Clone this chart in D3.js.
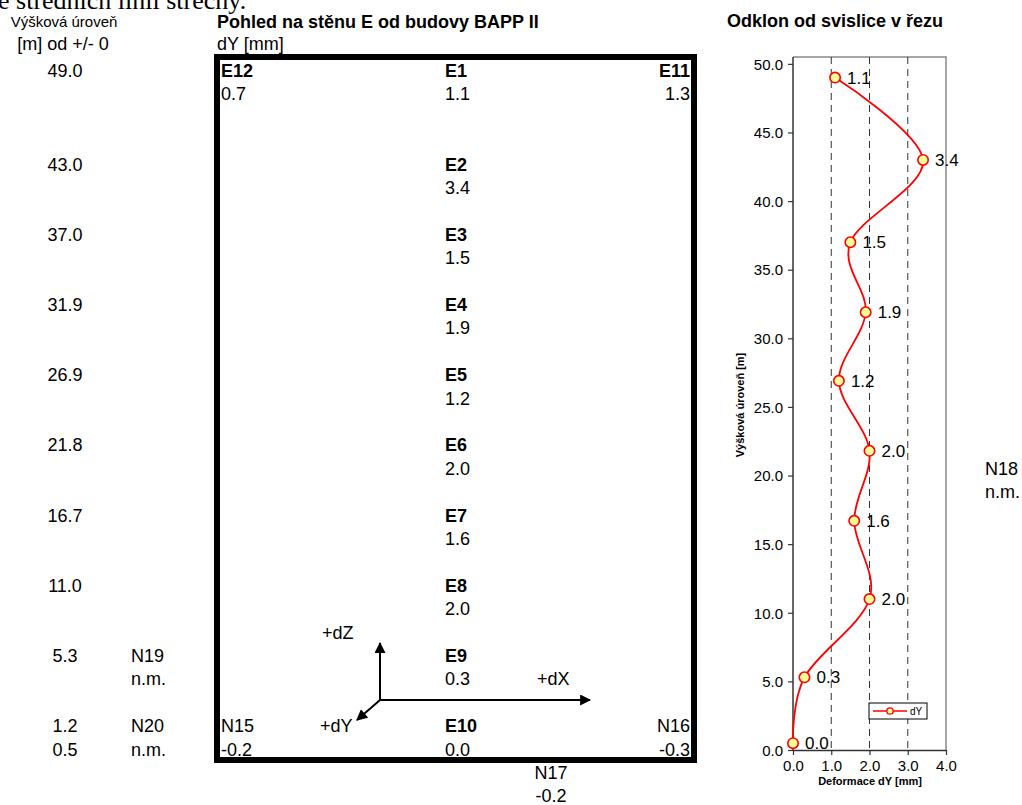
<!DOCTYPE html>
<html>
<head>
<meta charset="utf-8">
<title>Pohled na stěnu E</title>
<script src="https://cdn.jsdelivr.net/npm/d3@7"></script>
<style>
  body { margin: 0; background: #fff; }
  svg text { font-family: "Liberation Sans", Arial, sans-serif; fill: #000; }
  .b { font-weight: bold; }
</style>
</head>
<body>
<div id="chart"></div>
<script>
// --- data ---
var pointNames = ["E1", "E2", "E3", "E4", "E5", "E6", "E7", "E8", "E9", "E10"];
var pointRows  = [0, 4, 7, 10, 13, 16, 19, 22, 25, 28];      // sheet row of each name
var dYvalues   = [1.1, 3.4, 1.5, 1.9, 1.2, 2.0, 1.6, 2.0, 0.3, 0.0];
var heights    = [49.0, 43.0, 37.0, 31.9, 26.9, 21.8, 16.7, 11.0, 5.3, 0.5];

var levelLabels = ["49.0", "43.0", "37.0", "31.9", "26.9", "21.8", "16.7", "11.0", "5.3", "1.2", "0.5"];
var levelRows   = [0, 4, 7, 10, 13, 16, 19, 22, 25, 28, 29];

// corner / outside points: name, value
var cornerNames  = ["E12", "E11", "N15", "N16", "N17", "N18", "N19", "N20"];
var cornerValues = ["0.7", "1.3", "-0.2", "-0.3", "-0.2", "n.m.", "n.m.", "n.m."];

var xTicks = [0, 1, 2, 3, 4];
var yTicks = [0, 5, 10, 15, 20, 25, 30, 35, 40, 45, 50];
var gridX  = [1, 2, 3];

var svg = d3.select("#chart").append("svg")
  .attr("width", 1022)
  .attr("height", 805);

// sheet rows -> y
var row = d3.scaleLinear().domain([0, 31]).range([77, 802.4]);

// heading line of the page above, cut by the top edge
svg.append("text")
  .attr("x", -2).attr("y", 9)
  .style("font-family", "'Liberation Serif', 'Times New Roman', serif")
  .style("font-size", "26px")
  .text("e středních linií střechy.");

// left column
svg.append("text").attr("x", 64).attr("y", 27).attr("text-anchor", "middle")
  .style("font-size", "15px").text("Výšková úroveň");
svg.append("text").attr("x", 63).attr("y", 50).attr("text-anchor", "middle")
  .style("font-size", "18px").text("[m] od +/- 0");

svg.selectAll(".lvl")
  .data(levelLabels)
  .enter().append("text")
  .attr("class", "lvl")
  .attr("x", 65)
  .attr("y", function(d, i) { return row(levelRows[i]); })
  .attr("text-anchor", "middle")
  .style("font-size", "18px")
  .text(function(d) { return d; });

// wall view title
svg.append("text").attr("class", "b").attr("x", 217).attr("y", 28)
  .style("font-size", "18px").text("Pohled na stěnu E od budovy BAPP II");
svg.append("text").attr("x", 217).attr("y", 50)
  .style("font-size", "18px").text("dY [mm]");

// thick frame of the wall
svg.append("rect")
  .attr("x", 217).attr("y", 57)
  .attr("width", 477).attr("height", 703)
  .attr("fill", "none")
  .attr("stroke", "#000")
  .attr("stroke-width", 6);

// E points down the middle
var pts = svg.selectAll(".pt")
  .data(pointNames)
  .enter().append("g")
  .attr("class", "pt");
pts.append("text")
  .attr("class", "b")
  .attr("x", 445)
  .attr("y", function(d, i) { return row(pointRows[i]); })
  .style("font-size", "18px")
  .text(function(d) { return d; });
pts.append("text")
  .attr("x", 445)
  .attr("y", function(d, i) { return row(pointRows[i] + 1); })
  .style("font-size", "18px")
  .text(function(d, i) { return dYvalues[i].toFixed(1); });

// corner points: x, row, anchor, bold
var cornerPos = [
  [221, 0, "start", true], [690, 0, "end", true],
  [221, 28, "start", false], [690, 28, "end", false],
  [551, 30, "middle", false], [985, 17, "start", false],
  [131, 25, "start", false], [131, 28, "start", false]
];
cornerNames.forEach(function(n, i) {
  var p = cornerPos[i];
  svg.append("text").attr("class", p[3] ? "b" : null)
    .attr("x", p[0]).attr("y", row(p[1])).attr("text-anchor", p[2])
    .style("font-size", "18px").text(n);
  svg.append("text")
    .attr("x", p[0]).attr("y", row(p[1] + 1)).attr("text-anchor", p[2])
    .style("font-size", "18px").text(cornerValues[i]);
});

// axis cross with arrows
svg.append("defs").append("marker")
  .attr("id", "arr")
  .attr("viewBox", "0 0 10 10")
  .attr("refX", 9).attr("refY", 5)
  .attr("markerWidth", 6).attr("markerHeight", 5.5)
  .attr("markerUnits", "strokeWidth")
  .attr("orient", "auto")
  .append("path").attr("d", "M0,0L10,5L0,10z").attr("fill", "#000");

var ox = 380, oy = 700;
[[380, 643], [590, 700], [357, 720]].forEach(function(e) {
  svg.append("line")
    .attr("x1", ox).attr("y1", oy).attr("x2", e[0]).attr("y2", e[1])
    .attr("stroke", "#000").attr("stroke-width", 2)
    .attr("marker-end", "url(#arr)");
});
svg.append("text").attr("x", 322).attr("y", row(24)).style("font-size", "18px").text("+dZ");
svg.append("text").attr("x", 537).attr("y", row(26)).style("font-size", "18px").text("+dX");
svg.append("text").attr("x", 320).attr("y", row(28)).style("font-size", "18px").text("+dY");

// ---------- deviation chart ----------
var x = d3.scaleLinear().domain([0, 4]).range([793, 946]);
var y = d3.scaleLinear().domain([0, 50.5]).range([750, 57]);

svg.append("text").attr("class", "b").attr("x", 727).attr("y", 27)
  .style("font-size", "18px").text("Odklon od svislice v řezu");

// frame top/right
svg.append("path")
  .attr("d", "M" + x(0) + "," + y(50.5) + "H" + x(4) + "V" + y(0))
  .attr("fill", "none").attr("stroke", "#888").attr("stroke-width", 1.5);

// dashed grid
svg.selectAll(".grid")
  .data(gridX)
  .enter().append("line")
  .attr("class", "grid")
  .attr("x1", function(d) { return x(d); }).attr("x2", function(d) { return x(d); })
  .attr("y1", y(50.5)).attr("y2", y(0))
  .attr("stroke", "#333").attr("stroke-width", 1)
  .attr("stroke-dasharray", "7,5");

var yAxis = svg.append("g")
  .attr("transform", "translate(" + x(0) + ",0)")
  .call(d3.axisLeft(y).tickValues(yTicks).tickFormat(d3.format(".1f")).tickSize(5).tickSizeOuter(0));
var xAxis = svg.append("g")
  .attr("transform", "translate(0," + y(0) + ")")
  .call(d3.axisBottom(x).tickValues(xTicks).tickFormat(d3.format(".1f")).tickSize(5).tickSizeOuter(0));
[yAxis, xAxis].forEach(function(a) {
  a.select(".domain").attr("stroke", "#333").attr("stroke-width", 1.5);
  a.selectAll(".tick line").attr("stroke", "#333").attr("stroke-width", 1.2);
  a.selectAll(".tick text")
    .style("font-family", "'Liberation Sans', Arial, sans-serif")
    .style("font-size", "15px").attr("fill", "#000");
});
yAxis.select(".domain").attr("d", "M0," + y(50.5) + "V" + y(0));
yAxis.selectAll(".tick text").attr("x", -10).attr("dy", "0.35em");
xAxis.selectAll(".tick text").attr("y", 10);

svg.append("text").attr("class", "b")
  .attr("x", 870).attr("y", 785).attr("text-anchor", "middle")
  .style("font-size", "11px").text("Deformace dY [mm]");
svg.append("text").attr("class", "b")
  .attr("transform", "translate(744,405) rotate(-90)")
  .attr("text-anchor", "middle")
  .style("font-size", "11px").text("Výšková úroveň [m]");

var series = dYvalues.map(function(v, i) { return { dy: v, h: heights[i] }; });

svg.append("path")
  .datum(series)
  .attr("fill", "none")
  .attr("stroke", "#FF0000")
  .attr("stroke-width", 1.8)
  .attr("d", d3.line()
    .x(function(d) { return x(d.dy); })
    .y(function(d) { return y(d.h); })
    .curve(d3.curveCatmullRom.alpha(0)));

svg.selectAll(".mk")
  .data(series)
  .enter().append("circle")
  .attr("class", "mk")
  .attr("cx", function(d) { return x(d.dy); })
  .attr("cy", function(d) { return y(d.h); })
  .attr("r", 5.2)
  .attr("fill", "#FFFF99")
  .attr("stroke", "#FF0000")
  .attr("stroke-width", 1.6);

svg.selectAll(".lbl")
  .data(series)
  .enter().append("text")
  .attr("class", "lbl")
  .attr("x", function(d) { return x(d.dy) + 12; })
  .attr("y", function(d) { return y(d.h); })
  .attr("dy", "0.35em")
  .style("font-size", "17px")
  .text(function(d) { return d.dy.toFixed(1); });

// legend
var lg = svg.append("g").attr("transform", "translate(869,703)");
lg.append("rect").attr("width", 58).attr("height", 16)
  .attr("fill", "#fff").attr("stroke", "#000").attr("stroke-width", 1);
lg.append("line").attr("x1", 4).attr("x2", 38).attr("y1", 8).attr("y2", 8)
  .attr("stroke", "#FF0000").attr("stroke-width", 1.5);
lg.append("circle").attr("cx", 21).attr("cy", 8).attr("r", 3.2)
  .attr("fill", "#FFFF99").attr("stroke", "#FF0000").attr("stroke-width", 1.3);
lg.append("text").attr("x", 41).attr("y", 12).style("font-size", "10px").text("dY");
</script>
</body>
</html>
